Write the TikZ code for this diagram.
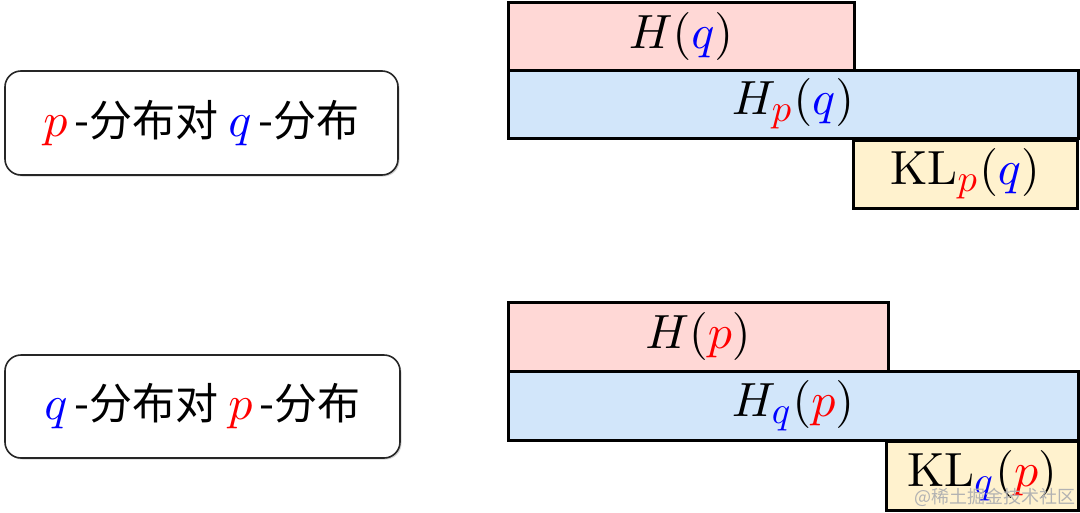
\documentclass[tikz,border=0pt]{standalone}
\usepackage{fontspec}
\newfontfamily\cjk{Noto Sans CJK SC}
\usetikzlibrary{shadows}
\definecolor{pinkc}{RGB}{255,216,214}
\definecolor{bluec}{RGB}{210,230,250}
\definecolor{yellowc}{RGB}{255,242,206}
\definecolor{pc}{RGB}{255,0,0}
\definecolor{qc}{RGB}{0,0,255}
\newcommand{\pp}{\textcolor{pc}{p}}
\newcommand{\qq}{\textcolor{qc}{q}}
\newcommand{\msub}[1]{_{\scalebox{0.8}{$#1$}}}
\newcommand{\mbigtext}[1]{\scalebox{4.8}{\fontsize{10}{12}\selectfont$#1$}}
\newcommand{\cjktext}[1]{{\cjk\fontsize{43}{46}\selectfont #1}}
\begin{document}
\begin{tikzpicture}[x=1pt,y=-1pt,
  bar/.style={draw=black, line width=3pt, inner sep=0pt},
  distbox/.style={draw=black!85, line width=1.6pt, rounded corners=16pt, fill=white, inner sep=0pt,
    drop shadow={shadow xshift=1.5pt, shadow yshift=-1.5pt, fill=black!35}}]
\useasboundingbox (0,0) rectangle (1080,512);
% left boxes
\node[distbox, minimum width=393pt, minimum height=104pt] (pq) at (201.5,123)
  {\mbigtext{\pp}\cjktext{\,-分布对\ }\mbigtext{\qq}\cjktext{\,-分布}};
\node[distbox, minimum width=395pt, minimum height=103pt] (qp) at (202.5,406.5)
  {\mbigtext{\qq}\cjktext{\,-分布对\ }\mbigtext{\pp}\cjktext{\,-分布}};
% top group
\node[bar, fill=pinkc, minimum width=346pt, minimum height=68pt] (hq) at (681,36) {\mbigtext{H(\qq)}};
\node[bar, fill=bluec, minimum width=570pt, minimum height=68pt] (hpq) at (793,104) {\mbigtext{H\msub{\pp}(\qq)}};
\node[bar, fill=yellowc, minimum width=224pt, minimum height=68pt] (klpq) at (965,174) {\mbigtext{\mathrm{KL}\msub{\pp}(\qq)}};
% bottom group
\node[bar, fill=pinkc, minimum width=380pt, minimum height=69pt] (hp) at (698,336.5) {\mbigtext{H(\pp)}};
\node[bar, fill=bluec, minimum width=570pt, minimum height=69pt] (hqp) at (793,405.5) {\mbigtext{H\msub{\qq}(\pp)}};
\node[bar, fill=yellowc, minimum width=192pt, minimum height=69pt] (klqp) at (982,475.5) {\mbigtext{\mathrm{KL}\msub{\qq}(\pp)}};
% watermark
\node[text=black!30, font=\cjk\fontsize{18}{20}\selectfont, inner sep=0pt] (wm) at (995,497) {@稀土掘金技术社区};
\end{tikzpicture}
\end{document}
